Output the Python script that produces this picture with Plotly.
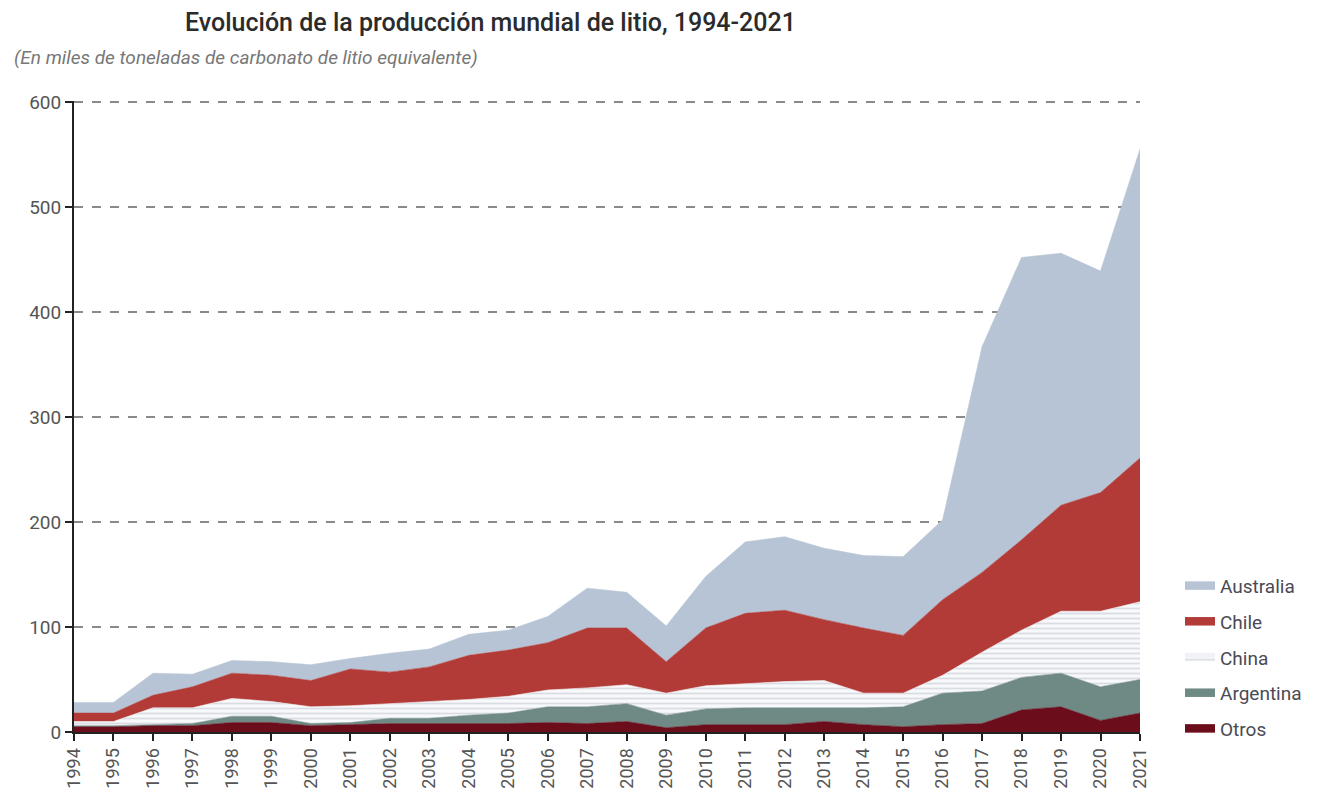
import plotly.graph_objects as go

years = list(range(1994, 2022))

# Producción por país (miles de toneladas de LCE)
otros = [5, 5, 6, 6, 9, 9, 6, 7, 8, 8, 8, 8, 9, 8, 10, 4, 7, 7, 7, 10, 7, 5, 7, 8, 21, 24, 11, 18]
argentina = [1, 1, 1, 2, 6, 6, 2, 2, 5, 5, 8, 10, 15, 16, 17, 12, 15, 16, 16, 13, 16, 19, 30, 31, 31, 32, 32, 32]
china = [4, 4, 16, 15, 17, 14, 16, 16, 14, 16, 15, 16, 16, 18, 18, 21, 22, 23, 25, 26, 14, 13, 17, 37, 45, 59, 72, 74]
chile = [8, 8, 12, 20, 24, 25, 25, 35, 30, 33, 42, 44, 45, 57, 54, 30, 55, 67, 68, 58, 62, 55, 72, 76, 86, 101, 113, 137]
australia = [10, 10, 21, 12, 12, 13, 15, 10, 18, 17, 20, 19, 25, 38, 34, 34, 49, 68, 70, 68, 69, 75, 76, 215, 269, 240, 211, 294]

y_ticks = [0, 100, 200, 300, 400, 500, 600]

FONT = "Roboto, Liberation Sans, sans-serif"

series = [
    ("Otros", otros, "#6c0d1c", None),
    ("Argentina", argentina, "#6f8984", None),
    ("China", china, "#f1f2f5", dict(shape="-", fgcolor="#b9bfc9", bgcolor="#f8f9fb", size=5, solidity=0.35)),
    ("Chile", chile, "#b23b38", None),
    ("Australia", australia, "#b7c4d5", None),
]

fig = go.Figure()
n = len(series)
for i, (name, vals, color, pattern) in enumerate(series):
    kw = dict(fillpattern=pattern) if pattern else {}
    fig.add_trace(go.Scatter(
        x=years, y=vals, name=name, mode="lines",
        stackgroup="one", legendgroup=name, legendrank=1000 + (n - i),
        line=dict(width=0.6, color=color),
        fillcolor=color, **kw,
    ))

L, R, T, B = 74, 180, 101, 68
pw, ph = 1320 - L - R, 800 - T - B

fig.update_layout(
    width=1320, height=800,
    margin=dict(l=L, r=R, t=T, b=B),
    paper_bgcolor="white", plot_bgcolor="white",
    font=dict(family=FONT, color="#555555", size=17),
    showlegend=True,
    legend=dict(
        x=(1180 - L) / pw, y=(800 - B - 567) / ph, xanchor="left", yanchor="top",
        traceorder="grouped", font=dict(size=19, color="#4a4a55"),
        itemsizing="constant", tracegroupgap=8, itemwidth=30,
    ),
    annotations=[
        dict(text="Evolución de la producción mundial de litio, 1994-2021",
             x=(490 - L) / pw, y=1 + (T - 22) / ph, xref="paper", yref="paper",
             xanchor="center", yanchor="middle", showarrow=False,
             font=dict(size=25, color="#2b2b2b", family=FONT, weight=500)),
        dict(text="<i>(En miles de toneladas de carbonato de litio equivalente)</i>",
             x=(12 - L) / pw, y=1 + (T - 58) / ph, xref="paper", yref="paper",
             xanchor="left", yanchor="middle", showarrow=False,
             font=dict(size=19, color="#777777", family=FONT)),
    ],
)

fig.update_xaxes(
    range=[1994, 2021], tickmode="array", tickvals=years,
    ticktext=[str(y) for y in years], tickangle=-90,
    ticks="outside", ticklen=7, tickwidth=2, tickcolor="#222222",
    showline=True, linecolor="#222222", linewidth=2,
    showgrid=False, zeroline=False,
    tickfont=dict(size=18, color="#555555"),
)
fig.update_yaxes(
    range=[0, 601], tickmode="array", tickvals=y_ticks,
    ticks="outside", ticklen=7, tickwidth=2, tickcolor="#222222",
    showline=True, linecolor="#222222", linewidth=2,
    showgrid=True, gridcolor="#8a8a8a", gridwidth=2, griddash="dash",
    zeroline=False, tickfont=dict(size=19, color="#555555"),
)

fig.write_html("out.html")
